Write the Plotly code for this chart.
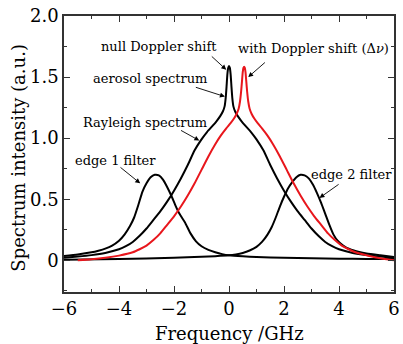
import plotly.graph_objects as go

# Rayleigh + aerosol spectrum, null Doppler shift (GHz, a.u.)
rayleigh_x = [-6.0, -5.5, -5.0, -4.5, -4.0, -3.75, -3.5, -3.25, -3.0, -2.75, -2.5, -2.25,
              -2.0, -1.75, -1.5, -1.25, -1.0, -0.8, -0.6, -0.45, -0.32, -0.22, -0.16,
              -0.12, -0.09, -0.06, -0.03, 0.0, 0.03, 0.06, 0.09, 0.12, 0.16, 0.22, 0.32,
              0.45, 0.6, 0.8, 1.0, 1.25, 1.5, 1.75, 2.0, 2.25, 2.5, 2.75, 3.0, 3.25, 3.5,
              3.75, 4.0, 4.5, 5.0, 5.5, 6.0]
rayleigh_y = [0.02, 0.03, 0.042, 0.06, 0.09, 0.115, 0.15, 0.20, 0.26, 0.33, 0.40, 0.48,
              0.57, 0.67, 0.78, 0.90, 0.99, 1.05, 1.10, 1.14, 1.18, 1.22, 1.26,
              1.33, 1.42, 1.52, 1.575, 1.59, 1.575, 1.52, 1.42, 1.33, 1.26, 1.22, 1.18,
              1.14, 1.10, 1.05, 0.99, 0.90, 0.78, 0.67, 0.57, 0.48, 0.40, 0.33, 0.26, 0.20,
              0.15, 0.115, 0.09, 0.06, 0.042, 0.03, 0.02]

# Same spectrum with Doppler shift
shifted_x = [-5.5, -5.0, -4.5, -4.0, -3.5, -3.25, -3.0, -2.75, -2.5, -2.25, -2.0, -1.75,
             -1.5, -1.25, -1.0, -0.75, -0.5, -0.3, -0.1, 0.05, 0.18, 0.28, 0.35, 0.4,
             0.44, 0.47, 0.5, 0.525, 0.55, 0.575, 0.6, 0.63, 0.66, 0.7, 0.75, 0.82, 0.92,
             1.05, 1.2, 1.4, 1.6, 1.85, 2.1, 2.35, 2.6, 2.85, 3.1, 3.35, 3.6, 3.85, 4.1,
             4.35, 4.6, 5.1, 5.6, 6.0]
shifted_y = [0.0, 0.008, 0.02, 0.038, 0.065, 0.09, 0.12, 0.165, 0.22, 0.29, 0.36, 0.44,
             0.53, 0.63, 0.74, 0.85, 0.95, 1.02, 1.08, 1.12, 1.16, 1.20, 1.24, 1.30,
             1.38, 1.46, 1.54, 1.575, 1.585, 1.575, 1.54, 1.46, 1.38, 1.30, 1.24, 1.20, 1.16,
             1.12, 1.08, 1.02, 0.95, 0.85, 0.74, 0.63, 0.53, 0.44, 0.36, 0.29, 0.22, 0.165, 0.12,
             0.09, 0.065, 0.035, 0.012, 0.0]

# Edge 1 filter transmission
edge1_x = [-6.0, -5.5, -5.0, -4.75, -4.5, -4.25, -4.0, -3.8, -3.6, -3.45, -3.3, -3.15,
           -3.0, -2.85, -2.7, -2.55, -2.4, -2.25, -2.1, -1.95, -1.8, -1.6, -1.4, -1.2,
           -1.0, -0.75, -0.5, -0.25, 0.0, 0.5, 1.0, 2.0, 3.0, 4.0, 5.0, 6.0]
edge1_y = [0.035, 0.047, 0.065, 0.078, 0.095, 0.12, 0.16, 0.21, 0.28, 0.35, 0.45, 0.56,
           0.63, 0.68, 0.70, 0.695, 0.66, 0.60, 0.53, 0.45, 0.38, 0.31, 0.22, 0.155,
           0.115, 0.085, 0.065, 0.05, 0.04, 0.032, 0.027, 0.02, 0.016, 0.013, 0.011, 0.01]

# Edge 2 filter transmission
edge2_x = [-6.0, -4.0, -2.0, -1.0, -0.5, 0.0, 0.25, 0.5, 0.75, 1.0, 1.2, 1.4, 1.55, 1.7,
           1.85, 2.0, 2.15, 2.3, 2.45, 2.6, 2.75, 2.9, 3.05, 3.2, 3.35, 3.5, 3.65, 3.8,
           3.95, 4.15, 4.4, 4.7, 5.0, 5.5, 6.0]
edge2_y = [0.005, 0.01, 0.02, 0.028, 0.033, 0.04, 0.048, 0.06, 0.08, 0.11, 0.15, 0.21,
           0.27, 0.35, 0.44, 0.52, 0.59, 0.64, 0.68, 0.70, 0.695, 0.67, 0.62, 0.55, 0.47,
           0.38, 0.29, 0.21, 0.16, 0.12, 0.09, 0.07, 0.055, 0.04, 0.027]

x_ticks = [-6, -4, -2, 0, 2, 4, 6]
y_ticks = [0, 0.5, 1.0, 1.5, 2.0]
y_tick_text = ["0", "0.5", "1.0", "1.5", "2.0"]

SERIF = "DejaVu Serif"
RED = "#e8161c"

fig = go.Figure()
for xs, ys, col in [(edge1_x, edge1_y, "black"), (edge2_x, edge2_y, "black"),
                    (rayleigh_x, rayleigh_y, "black"), (shifted_x, shifted_y, RED)]:
    fig.add_trace(go.Scatter(x=xs, y=ys, mode="lines",
                             line=dict(color=col, width=2, shape="spline", smoothing=0.5),
                             showlegend=False, hoverinfo="skip"))

# Label texts (data coordinates)
labels = [
    ("null Doppler shift", -2.54, 1.754),
    ("with Doppler shift (Δ<i>ν</i>)", 3.07, 1.738),
    ("aerosol spectrum", -2.86, 1.49),
    ("Rayleigh spectrum", -3.04, 1.13),
    ("edge 1 filter", -4.14, 0.82),
    ("edge 2 filter", 4.46, 0.70),
]
# Arrows: (tail x, tail y, tip x, tip y)
arrows = [
    (-0.68, 1.68, -0.10, 1.56),
    (1.36, 1.63, 0.70, 1.50),
    (-1.26, 1.42, -0.15, 1.34),
    (-1.80, 1.07, -1.08, 0.98),
    (-4.00, 0.77, -3.23, 0.63),
    (4.04, 0.63, 3.29, 0.51),
]

annotations = []
for text, x, y in labels:
    annotations.append(dict(text=text, x=x, y=y, xref="x", yref="y", showarrow=False,
                            font=dict(family=SERIF, size=13, color="black"),
                            xanchor="center", yanchor="middle"))
for tx, ty, hx, hy in arrows:
    annotations.append(dict(text="", x=hx, y=hy, ax=tx, ay=ty, xref="x", yref="y",
                            axref="x", ayref="y", showarrow=True, arrowhead=2,
                            arrowsize=1.1, arrowwidth=0.9, arrowcolor="black", standoff=0))

# Axis titles
annotations.append(dict(text="Frequency /GHz", x=0.5, y=-0.149, xref="paper", yref="paper",
                        showarrow=False, font=dict(family=SERIF, size=18, color="black"),
                        xanchor="center", yanchor="middle"))
annotations.append(dict(text="Spectrum intensity (a.u.)", x=-0.137, y=0.486, xref="paper",
                        yref="paper", showarrow=False, textangle=-90,
                        font=dict(family=SERIF, size=18, color="black"),
                        xanchor="center", yanchor="middle"))

axis_common = dict(showline=True, linecolor="#333", linewidth=1.5, mirror="ticks",
                   ticks="inside", ticklen=6, tickwidth=1.2, tickcolor="#333",
                   showgrid=False, zeroline=False, ticklabeloverflow="allow",
                   tickfont=dict(family=SERIF, size=18, color="black"))

fig.update_layout(
    width=403, height=344,
    margin=dict(l=64, r=3, t=16, b=52),
    paper_bgcolor="white", plot_bgcolor="white",
    xaxis=dict(range=[-6, 6], tickvals=x_ticks,
               minor=dict(dtick=1, ticks="inside", ticklen=3, tickcolor="#333"),
               **axis_common),
    yaxis=dict(range=[-0.26, 2.0], tickvals=y_ticks, ticktext=y_tick_text,
               minor=dict(dtick=0.25, ticks="inside", ticklen=3, tickcolor="#333"),
               **axis_common),
    annotations=annotations,
)

fig.write_html("out.html")
